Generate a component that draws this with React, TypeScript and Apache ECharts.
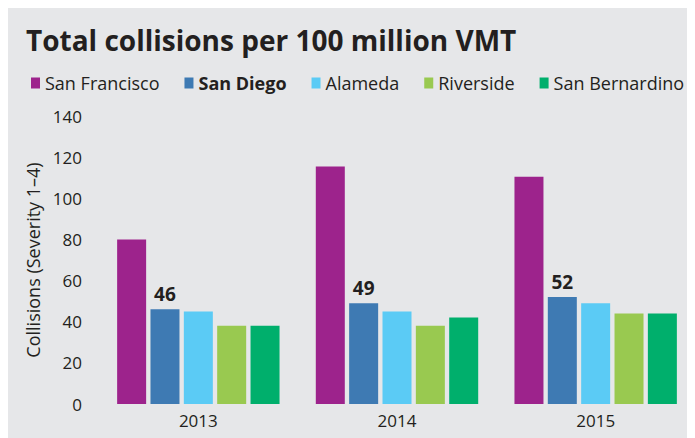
import React, { useEffect, useRef } from "react";
import * as echarts from "echarts";

const years = ["2013", "2014", "2015"];
const seriesNames = ["San Francisco", "San Diego", "Alameda", "Riverside", "San Bernardino"];
const sanFrancisco = [80, 115.5, 110.5];
const sanDiego = [46, 49, 52];
const alameda = [45, 45, 49];
const riverside = [38, 38, 44];
const sanBernardino = [38, 42, 44];
const yTicks = [0, 20, 40, 60, 80, 100, 120, 140];

const colors = ["#9d238c", "#3e7ab3", "#5bcbf5", "#99c950", "#00af6c"];
const FONT = "'Open Sans', sans-serif";
const TEXT = "#231f20";

export default function App() {
  const ref = useRef<HTMLDivElement>(null);
  useEffect(() => {
    if (!ref.current) return;
    const chart = echarts.init(ref.current, undefined, { renderer: "svg" });
    const values = [sanFrancisco, sanDiego, alameda, riverside, sanBernardino];
    chart.setOption({
      animation: false,
      backgroundColor: "#e6e7e9",
      textStyle: { fontFamily: FONT, color: TEXT },
      title: {
        text: "Total collisions per 100 million VMT",
        left: 13,
        top: 13,
        textStyle: { fontFamily: FONT, fontWeight: "bold", fontSize: 28, color: TEXT },
      },
      legend: {
        left: 18,
        top: 61,
        itemWidth: 9,
        itemHeight: 11,
        itemGap: 25,
        icon: "rect",
        data: seriesNames,
        formatter: (name: string) => (name === "San Diego" ? `{b|${name}}` : name),
        textStyle: {
          fontFamily: FONT,
          fontSize: 18,
          color: TEXT,
          padding: [0, 0, 0, 0],
          rich: { b: { fontFamily: FONT, fontSize: 18, fontWeight: "bold", color: TEXT } },
        },
      },
      grid: { left: 91, right: 0, top: 108, bottom: 34 },
      xAxis: {
        type: "category",
        data: years,
        axisLine: { show: false },
        axisTick: { show: false },
        axisLabel: { fontFamily: FONT, fontSize: 17, color: TEXT, margin: 8 },
      },
      yAxis: {
        type: "value",
        min: yTicks[0],
        max: yTicks[yTicks.length - 1],
        interval: 20,
        name: "Collisions (Severity 1\u20134)",
        nameLocation: "middle",
        nameGap: 56,
        nameTextStyle: { fontFamily: FONT, fontSize: 18, color: TEXT },
        axisLine: { show: false },
        axisTick: { show: false },
        splitLine: { show: false },
        axisLabel: { fontFamily: FONT, fontSize: 17, color: TEXT, margin: 17 },
      },
      series: seriesNames.map((name, i) => ({
        name,
        type: "bar",
        data: values[i],
        barWidth: 29,
        barGap: "15%",
        itemStyle: { color: colors[i] },
        label:
          name === "San Diego"
            ? {
                show: true,
                position: "top",
                distance: 6,
                fontFamily: FONT,
                fontSize: 19,
                fontWeight: "bold",
                color: TEXT,
              }
            : { show: false },
      })),
    });
    return () => chart.dispose();
  }, []);
  return <div ref={ref} style={{ width: 687, height: 430 }} />;
}
